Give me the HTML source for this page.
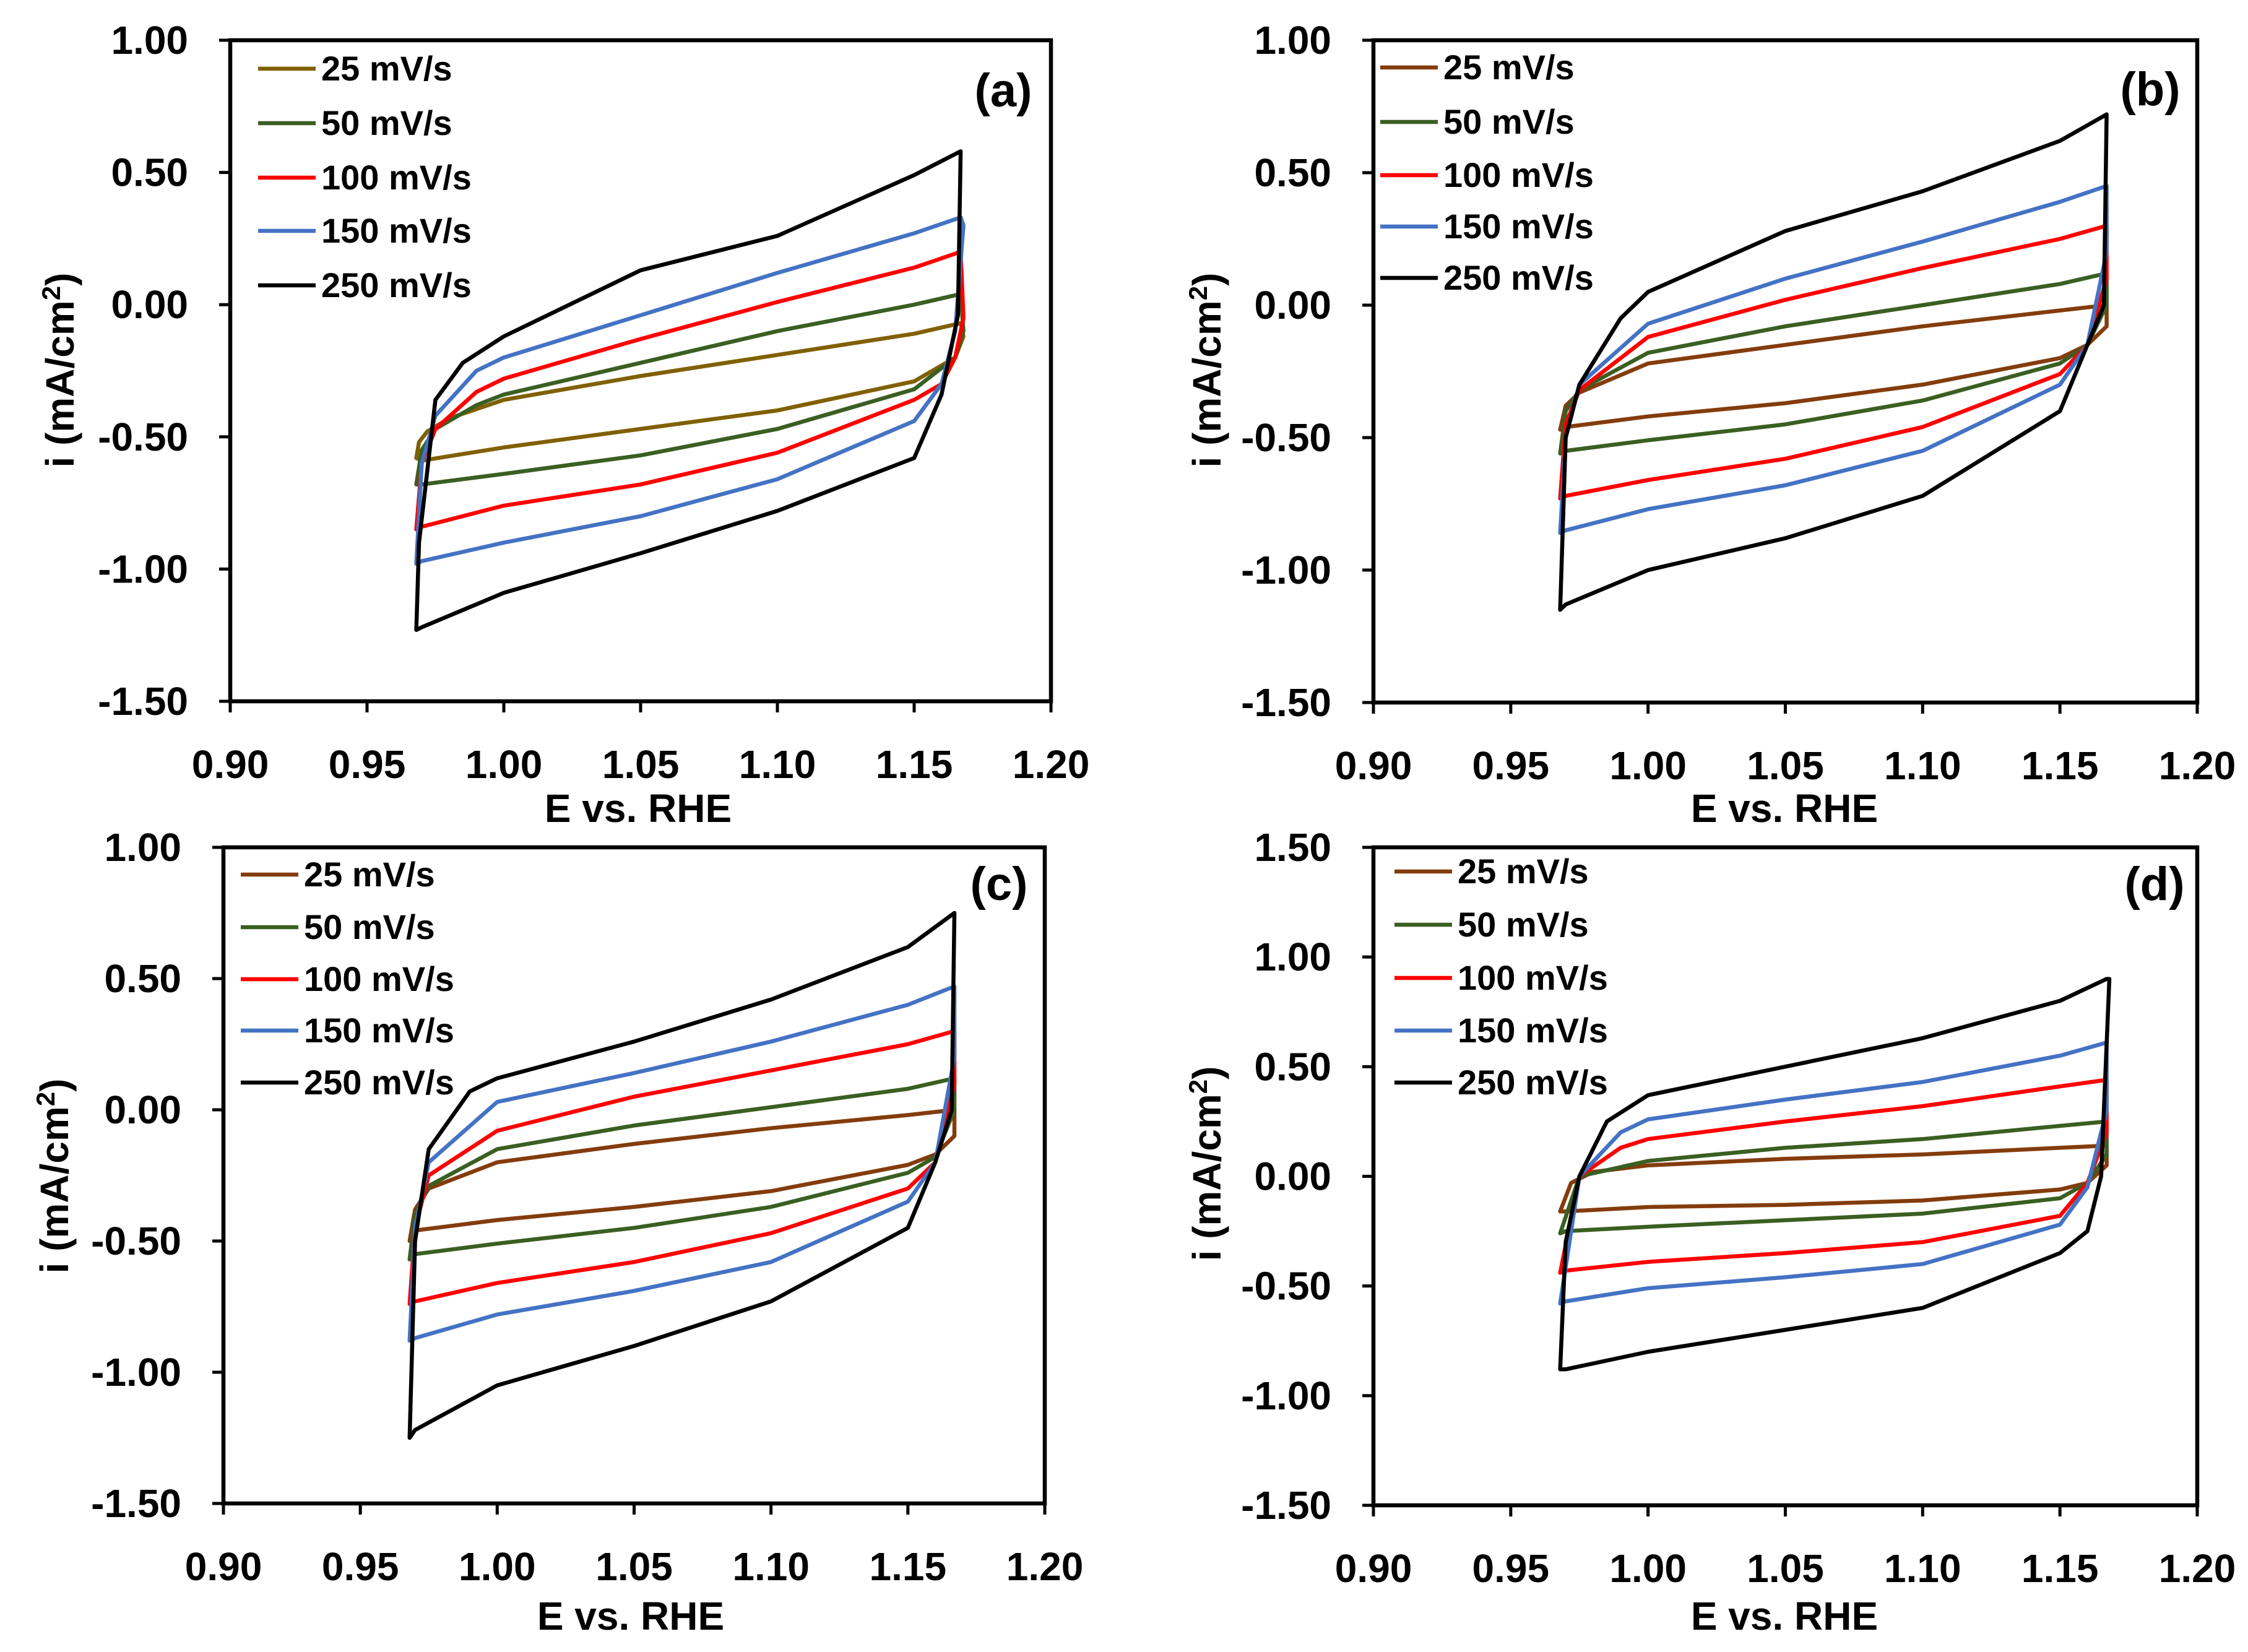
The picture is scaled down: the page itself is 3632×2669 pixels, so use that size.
<!DOCTYPE html>
<html><head><meta charset="utf-8"><style>
html,body{margin:0;padding:0;background:#fff}
svg text{font-family:"Liberation Sans Narrow","Liberation Sans",sans-serif;font-weight:bold;fill:#000}
</style></head><body>
<svg id="fig" width="3632" height="2664" xmlns="http://www.w3.org/2000/svg"></svg>
<script>
// Data: [E (V vs RHE), i (mA/cm2)] – forward (upper) then reverse (lower) branch
const series = ["25 mV/s","50 mV/s","100 mV/s","150 mV/s","250 mV/s"];
const xTicks = [0.90,0.95,1.00,1.05,1.10,1.15,1.20];
const yTicksABC = [1.00,0.50,0.00,-0.50,-1.00,-1.50];
const yTicksD = [1.50,1.00,0.50,0.00,-0.50,-1.00,-1.50];

const a25=[[0.968,-0.58],[0.969,-0.52],[0.972,-0.48],[0.98,-0.43],[1.00,-0.36],[1.05,-0.27],[1.10,-0.19],[1.15,-0.11],[1.167,-0.07],[1.168,-0.12],[1.165,-0.2],[1.15,-0.29],[1.10,-0.40],[1.05,-0.47],[1.00,-0.54],[0.97,-0.59]];
const a50=[[0.968,-0.68],[0.970,-0.55],[0.975,-0.47],[0.99,-0.38],[1.00,-0.34],[1.05,-0.22],[1.10,-0.10],[1.15,0.0],[1.167,0.04],[1.168,-0.1],[1.165,-0.2],[1.15,-0.32],[1.10,-0.47],[1.05,-0.57],[1.00,-0.64],[0.97,-0.68]];
const a100=[[0.968,-0.85],[0.970,-0.6],[0.975,-0.47],[0.99,-0.33],[1.00,-0.28],[1.05,-0.13],[1.10,0.01],[1.15,0.14],[1.167,0.20],[1.168,-0.05],[1.165,-0.2],[1.16,-0.3],[1.15,-0.36],[1.10,-0.56],[1.05,-0.68],[1.00,-0.76],[0.97,-0.84]];
const a150=[[0.968,-0.98],[0.970,-0.6],[0.975,-0.42],[0.99,-0.25],[1.00,-0.2],[1.05,-0.04],[1.10,0.12],[1.15,0.27],[1.167,0.33],[1.168,0.3],[1.165,-0.1],[1.16,-0.3],[1.15,-0.44],[1.10,-0.66],[1.05,-0.8],[1.00,-0.9],[0.97,-0.97]];
const a250=[[0.968,-1.23],[0.969,-0.9],[0.975,-0.36],[0.985,-0.22],[1.00,-0.12],[1.05,0.13],[1.10,0.26],[1.15,0.49],[1.167,0.58],[1.166,-0.04],[1.16,-0.34],[1.15,-0.58],[1.10,-0.78],[1.05,-0.94],[1.00,-1.09],[0.97,-1.22],[0.968,-1.23]];

const b25=[[0.968,-0.47],[0.970,-0.38],[0.975,-0.33],[1.00,-0.22],[1.05,-0.15],[1.10,-0.08],[1.15,-0.02],[1.167,0.0],[1.167,-0.08],[1.16,-0.15],[1.15,-0.2],[1.10,-0.3],[1.05,-0.37],[1.00,-0.42],[0.97,-0.46]];
const b50=[[0.968,-0.56],[0.970,-0.4],[0.975,-0.32],[1.00,-0.18],[1.05,-0.08],[1.10,0.0],[1.15,0.08],[1.167,0.12],[1.167,0.0],[1.16,-0.15],[1.15,-0.22],[1.10,-0.36],[1.05,-0.45],[1.00,-0.51],[0.97,-0.55]];
const b100=[[0.968,-0.73],[0.970,-0.45],[0.975,-0.32],[1.00,-0.12],[1.05,0.02],[1.10,0.14],[1.15,0.25],[1.167,0.3],[1.167,0.1],[1.16,-0.15],[1.15,-0.26],[1.10,-0.46],[1.05,-0.58],[1.00,-0.66],[0.97,-0.72]];
const b150=[[0.968,-0.86],[0.970,-0.5],[0.975,-0.3],[1.00,-0.07],[1.05,0.1],[1.10,0.24],[1.15,0.39],[1.167,0.45],[1.167,0.2],[1.16,-0.15],[1.15,-0.3],[1.10,-0.55],[1.05,-0.68],[1.00,-0.77],[0.97,-0.85]];
const b250=[[0.968,-1.15],[0.970,-0.5],[0.975,-0.3],[0.99,-0.05],[1.00,0.05],[1.05,0.28],[1.10,0.43],[1.15,0.62],[1.167,0.72],[1.166,0.0],[1.16,-0.15],[1.15,-0.4],[1.10,-0.72],[1.05,-0.88],[1.00,-1.0],[0.97,-1.13],[0.968,-1.15]];

const c25=[[0.968,-0.5],[0.970,-0.38],[0.975,-0.3],[1.00,-0.2],[1.05,-0.13],[1.10,-0.07],[1.15,-0.02],[1.167,0.0],[1.167,-0.1],[1.16,-0.17],[1.15,-0.21],[1.10,-0.31],[1.05,-0.37],[1.00,-0.42],[0.97,-0.46]];
const c50=[[0.968,-0.57],[0.970,-0.4],[0.975,-0.29],[1.00,-0.15],[1.05,-0.06],[1.10,0.01],[1.15,0.08],[1.167,0.12],[1.167,0.0],[1.16,-0.18],[1.15,-0.24],[1.10,-0.37],[1.05,-0.45],[1.00,-0.51],[0.97,-0.55]];
const c100=[[0.968,-0.74],[0.970,-0.45],[0.975,-0.25],[1.00,-0.08],[1.05,0.05],[1.10,0.15],[1.15,0.25],[1.167,0.3],[1.167,0.1],[1.16,-0.2],[1.15,-0.3],[1.10,-0.47],[1.05,-0.58],[1.00,-0.66],[0.97,-0.73]];
const c150=[[0.968,-0.88],[0.970,-0.45],[0.975,-0.2],[1.00,0.03],[1.05,0.14],[1.10,0.26],[1.15,0.4],[1.167,0.47],[1.167,0.2],[1.16,-0.2],[1.15,-0.35],[1.10,-0.58],[1.05,-0.69],[1.00,-0.78],[0.97,-0.87]];
const c250=[[0.968,-1.25],[0.970,-0.5],[0.975,-0.15],[0.99,0.07],[1.00,0.12],[1.05,0.26],[1.10,0.42],[1.15,0.62],[1.167,0.75],[1.166,0.0],[1.16,-0.2],[1.15,-0.45],[1.10,-0.73],[1.05,-0.9],[1.00,-1.05],[0.97,-1.22],[0.968,-1.25]];

const d25=[[0.968,-0.16],[0.972,-0.03],[0.98,0.02],[1.00,0.05],[1.05,0.08],[1.10,0.1],[1.15,0.13],[1.167,0.14],[1.167,0.05],[1.16,-0.03],[1.15,-0.06],[1.10,-0.11],[1.05,-0.13],[1.00,-0.14],[0.97,-0.16]];
const d50=[[0.968,-0.26],[0.975,0.0],[1.00,0.07],[1.05,0.13],[1.10,0.17],[1.15,0.23],[1.167,0.25],[1.167,0.1],[1.16,-0.03],[1.15,-0.1],[1.10,-0.17],[1.05,-0.2],[1.00,-0.23],[0.97,-0.25]];
const d100=[[0.968,-0.44],[0.975,0.0],[0.99,0.13],[1.00,0.17],[1.05,0.25],[1.10,0.32],[1.15,0.41],[1.167,0.44],[1.167,0.2],[1.16,-0.03],[1.15,-0.18],[1.10,-0.3],[1.05,-0.35],[1.00,-0.39],[0.97,-0.43]];
const d150=[[0.968,-0.58],[0.975,0.0],[0.99,0.2],[1.00,0.26],[1.05,0.35],[1.10,0.43],[1.15,0.55],[1.167,0.61],[1.167,0.3],[1.16,-0.05],[1.15,-0.22],[1.10,-0.4],[1.05,-0.46],[1.00,-0.51],[0.97,-0.57]];
const d250=[[0.968,-0.88],[0.970,-0.3],[0.975,0.0],[0.985,0.25],[1.00,0.37],[1.05,0.5],[1.10,0.63],[1.15,0.8],[1.167,0.9],[1.168,0.9],[1.165,0.0],[1.16,-0.25],[1.15,-0.35],[1.10,-0.6],[1.05,-0.7],[1.00,-0.8],[0.97,-0.88],[0.968,-0.88]];

const NS="http://www.w3.org/2000/svg";
const svg=document.getElementById('fig');
function mk(tag,attrs,parent){const e=document.createElementNS(NS,tag);for(const k in attrs)e.setAttribute(k,attrs[k]);(parent||svg).appendChild(e);return e;}

const panels=[
 {id:'a',x0:372,x1:1698,y0:65,y1:1133,ymax:1.0,ymin:-1.5,yt:yTicksABC,data:[a25,a50,a100,a150,a250],c25:'#806000',
  lx:417,ly:[111,199,287,373,461],lab:[1621,172],yl:[97,598],xl:[1031,1328]},
 {id:'b',x0:2219,x1:3550,y0:65,y1:1135,ymax:1.0,ymin:-1.5,yt:yTicksABC,data:[b25,b50,b100,b150,b250],c25:'#843c0c',
  lx:2230,ly:[109,197,283,366,449],lab:[3474,170],yl:[1950,598],xl:[2883,1328]},
 {id:'c',x0:361,x1:1688,y0:1369,y1:2429,ymax:1.0,ymin:-1.5,yt:yTicksABC,data:[c25,c50,c100,c150,c250],c25:'#843c0c',
  lx:389,ly:[1413,1498,1582,1665,1749],lab:[1614,1454],yl:[88,1900],xl:[1019,2633]},
 {id:'d',x0:2219,x1:3550,y0:1369,y1:2432,ymax:1.5,ymin:-1.5,yt:yTicksD,data:[d25,d50,d100,d150,d250],c25:'#843c0c',
  lx:2253,ly:[1408,1494,1580,1665,1749],lab:[3481,1454],yl:[1950,1880],xl:[2883,2633]}
];
const colors=[null,'#3a5f22','#ff0000','#4472c4','#000000'];

panels.forEach(p=>{
  const g=mk('g',{});
  
  
  const X=v=>p.x0+(v-0.90)/(0.30)*(p.x1-p.x0);
  const Y=v=>p.y0+(p.ymax-v)/(p.ymax-p.ymin)*(p.y1-p.y0);
  p.data.forEach((pts,k)=>{
    const d=pts.map((q,i)=>(i?'L':'M')+X(q[0]).toFixed(1)+','+Y(q[1]).toFixed(1)).join(' ')+' Z';
    const path=mk('path',{d:d,fill:'none',stroke:k?colors[k]:p.c25,'stroke-width':6.5,'stroke-linejoin':'round'},g);
    
    
  });
  const fr=mk('rect',{x:p.x0,y:p.y0,width:p.x1-p.x0,height:p.y1-p.y0,fill:'none',stroke:'#000','stroke-width':6.5},g);
  
  
  xTicks.forEach(t=>{
    const x=X(t);
    mk('line',{x1:x,x2:x,y1:p.y1,y2:p.y1+18,stroke:'#000','stroke-width':5},g);
    const tx=mk('text',{x:x,y:p.y1+124,'text-anchor':'middle','font-size':64},g);
    tx.textContent=t.toFixed(2);
    
    
  });
  p.yt.forEach(t=>{
    const y=Y(t);
    mk('line',{x1:p.x0-18,x2:p.x0,y1:y,y2:y,stroke:'#000','stroke-width':5},g);
    const tx=mk('text',{x:p.x0-68,y:y+22,'text-anchor':'end','font-size':64},g);
    tx.textContent=t.toFixed(2);
    
    
  });
  const xt=mk('text',{x:p.xl[0],y:p.xl[1],'text-anchor':'middle','font-size':64},g);
  xt.textContent='E vs. RHE';
  
  
  const yt=mk('text',{x:0,y:0,'text-anchor':'middle','font-size':64,transform:`translate(${p.yl[0]+22},${p.yl[1]}) rotate(-90)`},g);
  yt.innerHTML='i (mA/cm<tspan dy="-22" font-size="42">2</tspan><tspan dy="22">)</tspan>';
  
  
  const pl=mk('text',{x:p.lab[0],y:p.lab[1],'text-anchor':'middle','font-size':76},g);
  pl.textContent='('+p.id+')';
  
  
  series.forEach((s,k)=>{
    const le=mk('g',{},g);
    
    
    mk('line',{x1:p.lx,x2:p.lx+93,y1:p.ly[k],y2:p.ly[k],stroke:k?colors[k]:p.c25,'stroke-width':6.5},le);
    const t=mk('text',{x:p.lx+102,y:p.ly[k]+19,'font-size':56},le);
    t.textContent=s;
  });
});
</script>
</body></html>
